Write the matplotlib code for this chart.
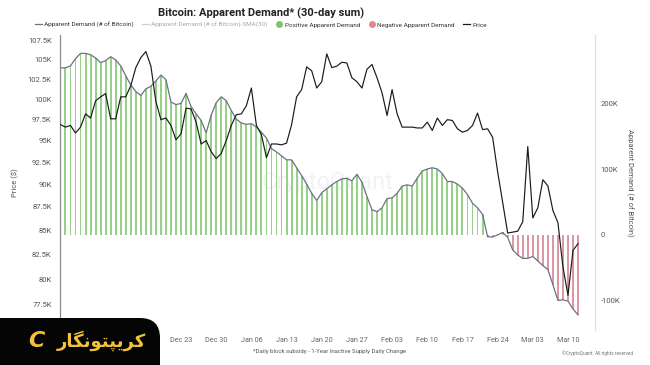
import matplotlib
matplotlib.use('Agg')
import matplotlib.pyplot as plt
import matplotlib.dates as mdates
from matplotlib.ticker import FixedLocator, NullLocator
from matplotlib.lines import Line2D
from matplotlib.patches import FancyBboxPatch
import pandas as pd

plt.rcParams['font.family'] = ['Roboto', 'DejaVu Sans']

# ---------------- data ----------------
start_date = '2024-11-29'
price_k = [96.9, 96.6, 96.8, 95.9, 96.6, 98.2, 97.7, 99.8, 100.3, 100.7, 97.6, 97.6,
           100.3, 100.3, 101.7, 104.0, 105.3, 106.1, 104.2, 99.7, 97.5, 97.7, 96.8, 95.1,
           95.8, 98.9, 98.8, 97.2, 94.6, 95.0, 93.7, 92.9, 93.5, 95.0,
           96.8, 98.1, 98.2, 99.2, 101.4, 96.8, 95.7, 93.0, 94.6, 94.6,
           94.5, 94.7, 96.9, 100.3, 101.2, 104.1, 103.6, 101.4, 102.2, 105.8,
           104.0, 104.2, 104.7, 104.6, 102.7, 102.2, 101.4, 103.8, 104.4, 102.7,
           100.8, 98.0, 101.2, 98.2, 96.6, 96.6, 96.6, 96.5, 96.5, 97.2,
           96.2, 97.7, 96.8, 97.5, 97.4, 96.4, 96.0, 96.2, 96.8, 98.3,
           96.3, 96.4, 95.4, 91.4, 88.0, 84.7, 84.8, 84.9, 85.9, 94.3,
           86.3, 87.4, 90.5, 89.8, 87.1, 85.8, 81.2, 78.4, 82.9, 83.6]
demand_k = [254, 254, 257, 268, 276, 276, 274, 269, 262, 265, 271, 266,
            257, 242, 228, 218, 212, 222, 226, 234, 243, 236, 202, 198,
            200, 215, 195, 184, 174, 155, 182, 201, 210, 204,
            189, 176, 170, 168, 169, 164, 156, 147, 131, 126,
            120, 114, 114, 102, 90, 77, 63, 52, 64, 70,
            76, 81, 85, 86, 82, 92, 80, 58, 38, 35,
            41, 55, 56, 63, 74, 76, 74, 86, 97, 100,
            102, 100, 93, 81, 81, 77, 71, 61, 48, 41,
            31, -3, -3.5, -0.3, 3.5, -4, -23, -31, -36, -36,
            -33, -40, -47, -53, -76, -100, -99, -101, -113, -122]

price_ticks_k = [77.5, 80, 82.5, 85, 87.5, 90, 92.5, 95, 97.5, 100, 102.5, 105, 107.5]
price_tick_labels = ['77.5K', '80K', '82.5K', '85K', '87.5K', '90K', '92.5K', '95K',
                     '97.5K', '100K', '102.5K', '105K', '107.5K']
demand_ticks_k = [-100, 0, 100, 200]
demand_tick_labels = ['-100K', '0', '100K', '200K']
xtick_start, xtick_end = '2024-12-23', '2025-03-10'

title = 'Bitcoin: Apparent Demand* (30-day sum)'
legend_labels = ['Apparent Demand (# of Bitcoin)', 'Apparent Demand (# of Bitcoin)-SMA(30)',
                 'Positive Apparent Demand', 'Negative Apparent Demand', 'Price']

dates = pd.date_range(start_date, periods=len(price_k), freq='D')
price = [p * 1000 for p in price_k]
demand = [d * 1000 for d in demand_k]

# ---------------- figure ----------------
W, H = 650, 365
fig = plt.figure(figsize=(W / 100, H / 100), dpi=100)
left, right, top, bottom = 60, 595, 35, 330
ax = fig.add_axes([left / W, 1 - bottom / H, (right - left) / W, (bottom - top) / H])
ax2 = ax.twinx()
ax.set_zorder(ax2.get_zorder() + 1)
ax.patch.set_visible(False)

green = '#7fc46c'
red = '#e08893'
bar_green = '#97d088'
bar_red = '#dc98a3'
colors = [bar_green if v >= 0 else bar_red for v in demand]
ax2.bar(dates, demand, width=0.38, color=colors, zorder=1, linewidth=0)
ax2.plot(dates, demand, color='#6c7186', lw=0.9, zorder=2)
ax.plot(dates, price, color='#1a1a1a', lw=0.85, zorder=3)

# watermark
ax2.text(0.5, 0.5, 'CryptoQuant', transform=ax2.transAxes, fontsize=17,
         color='#000000', alpha=0.05, ha='center', va='center', zorder=0)

# price axis (log)
ax.set_yscale('log')
ax.set_ylim(75100, 108300)
ax.yaxis.set_major_locator(FixedLocator([t * 1000 for t in price_ticks_k]))
ax.yaxis.set_minor_locator(NullLocator())
ax.set_yticklabels(price_tick_labels)
ax.tick_params(axis='y', length=0, labelsize=5.5, colors='#555555', pad=6)
ax.set_ylabel('Price ($)', fontsize=5.5, color='#555555', labelpad=6)

# demand axis
ax2.set_ylim(-145000, 304000)
ax2.set_yticks([t * 1000 for t in demand_ticks_k])
ax2.set_yticklabels(demand_tick_labels)
ax2.tick_params(axis='y', length=0, labelsize=5.5, colors='#555555', pad=4)
ax2.set_ylabel('Apparent Demand (# of Bitcoin)', fontsize=5.5, color='#555555',
               rotation=270, labelpad=10)

# x axis
ax.set_xlim(pd.Timestamp('2024-11-28 22:00'), pd.Timestamp('2025-03-15 09:00'))
ax.set_xticks(pd.date_range(xtick_start, xtick_end, freq='7D'))
ax.xaxis.set_major_formatter(mdates.DateFormatter('%b %d'))
ax.tick_params(axis='x', length=0, labelsize=5.2, colors='#666666', pad=5)
ax2.tick_params(axis='x', length=0)

for a in (ax, ax2):
    for s in ('top', 'bottom'):
        a.spines[s].set_visible(False)
ax.spines['right'].set_visible(False)
ax2.spines['left'].set_visible(False)
ax.spines['left'].set_color('#8c8c8c')
ax.spines['left'].set_linewidth(0.9)
ax2.spines['right'].set_color('#e2e2e2')
ax2.spines['right'].set_linewidth(0.9)

# title & legend
cx = 261 / W
fig.text(cx, 1 - 13 / H, title, ha='center', va='center', fontsize=8, fontweight='bold',
         color='#222222')
handles = [Line2D([], [], color='#6c7186', lw=0.9),
           Line2D([], [], color='#cfcfcf', lw=0.9),
           Line2D([], [], marker='o', color=green, ls='none', ms=4),
           Line2D([], [], marker='o', color=red, ls='none', ms=4),
           Line2D([], [], color='#1a1a1a', lw=0.9)]
leg = fig.legend(handles, legend_labels, loc='center', bbox_to_anchor=(cx, 1 - 25 / H),
                 ncol=5, frameon=False, fontsize=4.6, handlelength=1.0, handletextpad=0.4,
                 columnspacing=1.3, borderpad=0)
for i, t in enumerate(leg.get_texts()):
    t.set_color('#aaaaaa' if i == 1 else '#333333')

# footnotes
fig.text(330 / W, 1 - 352 / H, '*Daily block subsidy - 1-Year Inactive Supply Daily Change',
         ha='center', va='center', fontsize=4.3, color='#555555')
fig.text(633 / W, 1 - 353 / H, '\u00a9CryptoQuant. All rights reserved', ha='right',
         va='center', fontsize=3.4, color='#777777')

# site badge overlay (bottom-left)
badge = FancyBboxPatch((-0.3, -0.3), 1.9, 0.77, boxstyle='round,pad=0,rounding_size=0.2',
                       transform=fig.dpi_scale_trans, facecolor='#050505', edgecolor='none',
                       zorder=10)
fig.patches.append(badge)
persian = '\uFEAD\uFE8E\uFB95\uFEE7\uFEEE\uFE98\uFB59\uFBFE\uFEAE\uFB90'
fig.text(101 / W, 1 - 341 / H, persian, ha='center', va='center', fontsize=13,
         fontweight='bold', color='#f3c13a', family=['DejaVu Sans'], zorder=11)
fig.text(36 / W, 1 - 341 / H, 'C', ha='center', va='center', fontsize=16, fontstyle='italic',
         fontweight='bold', color='#f3c13a', family=['DejaVu Sans'], zorder=11)

fig.savefig('out.png', dpi=100)
